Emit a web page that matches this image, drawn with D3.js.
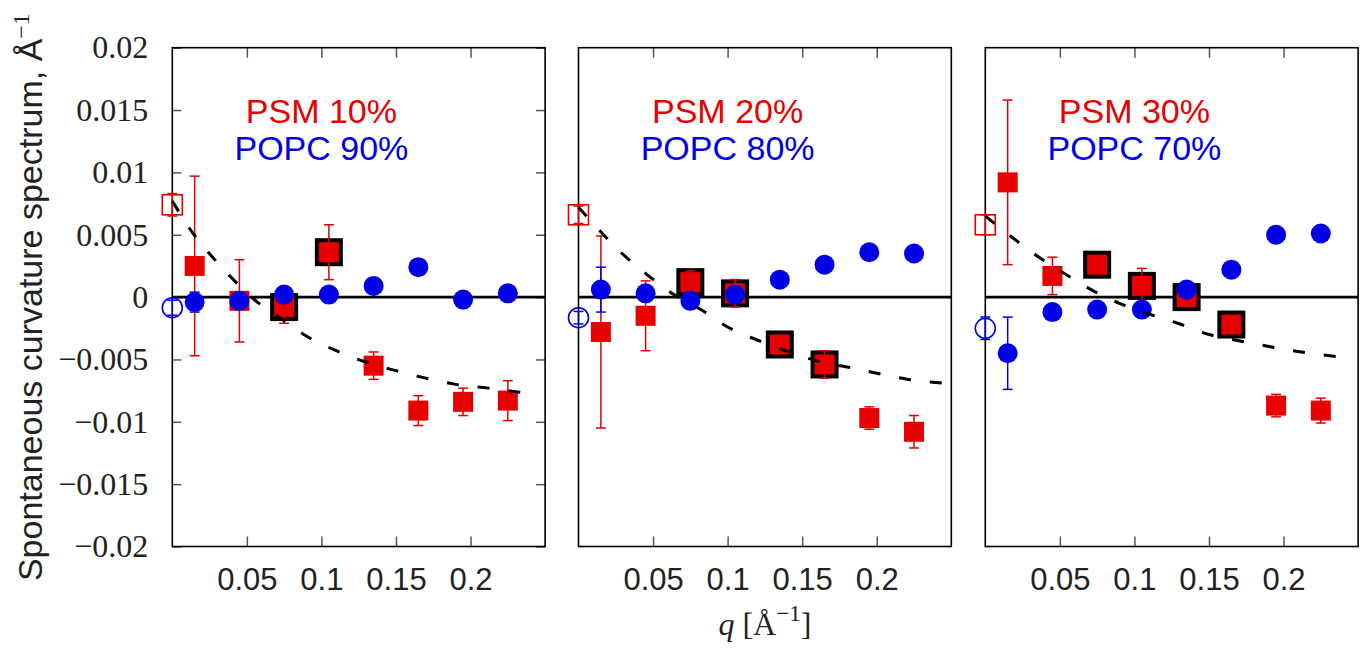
<!DOCTYPE html>
<html>
<head>
  <meta charset="utf-8">
  <style>
    body { margin: 0; background: #fff; }
    svg text { font-family: "Liberation Sans", Arial, sans-serif; }
    svg .tick line { stroke: #555; stroke-width: 1.5px; }
    svg .tick text { fill: #222; }
  </style>
</head>
<body>
<script src="https://cdn.jsdelivr.net/npm/d3@7"></script>
<script>
  // q positions of the filled points (A^-1)
  var qValues = [0.015, 0.045, 0.075, 0.105, 0.135, 0.165, 0.195, 0.225];

  var psmLabels  = ["PSM 10%", "PSM 20%", "PSM 30%"];
  var popcLabels = ["POPC 90%", "POPC 80%", "POPC 70%"];

  // PSM (red squares) and their error bars
  var psm10    = [0.0025, -0.0003, -0.0008, 0.0036, -0.0055, -0.0091, -0.0084, -0.0083];
  var psm10Err = [0.0072, 0.0033, 0.0013, 0.0022, 0.0011, 0.0012, 0.0011, 0.0016];
  var psm20    = [-0.0028, -0.0015, 0.0012, 0.0003, -0.0038, -0.0054, -0.0097, -0.0108];
  var psm20Err = [0.0077, 0.0028, 0.0009, 0.0011, 0.0005, 0.0011, 0.0009, 0.0013];
  var psm30    = [0.0092, 0.0017, 0.0026, 0.0009, 0.0000, -0.0022, -0.0087, -0.0091];
  var psm30Err = [0.0066, 0.0015, 0.0004, 0.0014, 0.0005, 0.0005, 0.0009, 0.0010];

  // which PSM points get the thick black frame
  var boxed10 = [0, 0, 1, 1, 0, 0, 0, 0];
  var boxed20 = [0, 0, 1, 1, 1, 1, 0, 0];
  var boxed30 = [0, 0, 1, 1, 1, 1, 0, 0];

  // POPC (blue circles)
  var popc90    = [-0.0004, -0.0003, 0.0002, 0.0002, 0.0009, 0.0024, -0.0002, 0.0003];
  var popc90Err = [0.0008, 0, 0, 0, 0, 0, 0, 0];
  var popc80    = [0.0006, 0.0003, -0.0003, 0.0002, 0.0014, 0.0026, 0.0036, 0.0035];
  var popc80Err = [0.0018, 0, 0, 0, 0, 0, 0, 0];
  var popc70    = [-0.0045, -0.0012, -0.0010, -0.0010, 0.0006, 0.0022, 0.0050, 0.0051];
  var popc70Err = [0.0029, 0, 0, 0, 0, 0, 0, 0];

  // open symbols at q = 0
  var psmAtZero     = [0.0074, 0.0066, 0.0058];
  var psmAtZeroErr  = [0.0009, 0.0007, 0.0008];
  var popcAtZero    = [-0.00085, -0.00165, -0.0025];
  var popcAtZeroErr = [0.0006, 0.0005, 0.0009];

  // dashed fit curves
  var fit10Q = [0, 0.014, 0.027, 0.041, 0.057, 0.074, 0.091, 0.11, 0.127, 0.15, 0.17, 0.19, 0.212, 0.237];
  var fit10  = [0.0077, 0.0051, 0.0032, 0.0014, -0.0004, -0.0018, -0.0032, -0.0043, -0.0051, -0.0059, -0.0065, -0.0070, -0.0073, -0.0077];
  var fit20Q = [0, 0.016, 0.031, 0.047, 0.064, 0.082, 0.1, 0.119, 0.139, 0.166, 0.18, 0.2, 0.221, 0.245];
  var fit20  = [0.0072, 0.0051, 0.0033, 0.0017, 0.0002, -0.0010, -0.0024, -0.0034, -0.0043, -0.0053, -0.0056, -0.0061, -0.0066, -0.0069];
  var fit30Q = [0, 0.019, 0.036, 0.053, 0.071, 0.09, 0.111, 0.129, 0.15, 0.17, 0.192, 0.212, 0.237];
  var fit30  = [0.0065, 0.0047, 0.0032, 0.0019, 0.0006, -0.0005, -0.0014, -0.0021, -0.0030, -0.0035, -0.0040, -0.0044, -0.0048];

  var yTicks      = [0.02, 0.015, 0.01, 0.005, 0, -0.005, -0.01, -0.015, -0.02];
  var yTickLabels = ["0.02", "0.015", "0.01", "0.005", "0", "\u22120.005", "\u22120.01", "\u22120.015", "\u22120.02"];
  var xTicks      = [0.05, 0.1, 0.15, 0.2];
  var xTickLabels = ["0.05", "0.1", "0.15", "0.2"];

  var panels = [
    { psm: psm10, psmErr: psm10Err, boxed: boxed10, popc: popc90, popcErr: popc90Err, fitQ: fit10Q, fit: fit10 },
    { psm: psm20, psmErr: psm20Err, boxed: boxed20, popc: popc80, popcErr: popc80Err, fitQ: fit20Q, fit: fit20 },
    { psm: psm30, psmErr: psm30Err, boxed: boxed30, popc: popc70, popcErr: popc70Err, fitQ: fit30Q, fit: fit30 }
  ];

  var red = "#e60000", blue = "#0000e6";

  // layout (pixels)
  var W = 1364, H = 652,
      plotTop = 47.7, plotBottom = 546.5,
      panelW = 372.8,
      panelLeft = [172.3, 578.5, 985.3];

  var svg = d3.select("body").append("svg")
      .attr("width", W)
      .attr("height", H);

  var y = d3.scaleLinear().domain([-0.02, 0.02]).range([plotBottom, plotTop]);

  function noDomain(a) { a.select(".domain").remove(); }

  function errBars(g, x, qs, vs, es, color) {
    var pts = qs.map(function (q, j) { return { q: q, v: vs[j], e: es[j] }; })
      .filter(function (d) { return d.e > 0; });
    var eb = g.append("g").attr("stroke", color).attr("stroke-width", 1.5).attr("fill", "none");
    eb.selectAll("line.bar").data(pts).enter().append("line")
        .attr("x1", function (d) { return x(d.q); })
        .attr("x2", function (d) { return x(d.q); })
        .attr("y1", function (d) { return y(d.v - d.e); })
        .attr("y2", function (d) { return y(d.v + d.e); });
    [-1, 1].forEach(function (s) {
      eb.selectAll("line.cap" + s).data(pts).enter().append("line")
          .attr("x1", function (d) { return x(d.q) - 5; })
          .attr("x2", function (d) { return x(d.q) + 5; })
          .attr("y1", function (d) { return y(d.v + s * d.e); })
          .attr("y2", function (d) { return y(d.v + s * d.e); });
    });
  }

  panels.forEach(function (p, i) {
    var x = d3.scaleLinear().domain([0, 0.25]).range([panelLeft[i], panelLeft[i] + panelW]);
    var g = svg.append("g");

    // x axis, bottom with labels, top mirror
    g.append("g")
        .attr("transform", "translate(0," + plotBottom + ")")
        .call(d3.axisBottom(x).tickValues(xTicks)
          .tickFormat(function (d, j) { return xTickLabels[j]; })
          .tickSize(-10).tickPadding(21.5))
        .call(noDomain)
      .selectAll(".tick text")
        .style("font-family", "'Liberation Sans', sans-serif")
        .style("font-size", "31px");
    g.append("g")
        .attr("transform", "translate(0," + plotTop + ")")
        .call(d3.axisTop(x).tickValues(xTicks).tickFormat("").tickSize(-10))
        .call(noDomain);

    // y axis only on the first panel
    if (i === 0) {
      g.append("g")
          .attr("transform", "translate(" + x(0) + ",0)")
          .call(d3.axisLeft(y).tickValues(yTicks)
            .tickFormat(function (d, j) { return yTickLabels[j]; })
            .tickSize(-9).tickPadding(24))
          .call(noDomain)
        .selectAll(".tick text")
          .style("font-family", "'Liberation Serif', serif")
          .style("font-size", "32px");
      g.append("g")
          .attr("transform", "translate(" + x(0.25) + ",0)")
          .call(d3.axisRight(y).tickValues(yTicks).tickFormat("").tickSize(-9))
          .call(noDomain);
    }

    // zero line
    g.append("line")
        .attr("x1", x(0)).attr("x2", x(0.25))
        .attr("y1", y(0)).attr("y2", y(0))
        .attr("stroke", "#000").attr("stroke-width", 2.6);

    // frame
    g.append("rect")
        .attr("x", x(0)).attr("y", plotTop)
        .attr("width", x(0.25) - x(0)).attr("height", plotBottom - plotTop)
        .attr("fill", "none").attr("stroke", "#000").attr("stroke-width", 1.6);

    var psmPts = qValues.map(function (q, j) { return { q: q, v: p.psm[j], boxed: p.boxed[j] }; });
    var popcPts = qValues.map(function (q, j) { return { q: q, v: p.popc[j] }; });

    // black frames behind the highlighted PSM points
    g.selectAll("rect.boxed").data(psmPts.filter(function (d) { return d.boxed; }))
      .enter().append("rect")
        .attr("x", function (d) { return x(d.q) - 14; })
        .attr("y", function (d) { return y(d.v) - 14; })
        .attr("width", 28).attr("height", 28)
        .attr("fill", "#000");

    // PSM error bars and squares
    errBars(g, x, qValues, p.psm, p.psmErr, red);
    errBars(g, x, [0], [psmAtZero[i]], [psmAtZeroErr[i]], red);

    g.selectAll("rect.psm").data(psmPts).enter().append("rect")
        .attr("x", function (d) { return x(d.q) - 10; })
        .attr("y", function (d) { return y(d.v) - 10; })
        .attr("width", 20).attr("height", 20)
        .attr("fill", red);

    g.append("rect")
        .attr("x", x(0) - 10).attr("y", y(psmAtZero[i]) - 10)
        .attr("width", 20).attr("height", 20)
        .attr("fill", "none").attr("stroke", red).attr("stroke-width", 1.6);

    // POPC error bars and circles
    errBars(g, x, qValues, p.popc, p.popcErr, blue);
    errBars(g, x, [0], [popcAtZero[i]], [popcAtZeroErr[i]], blue);

    g.selectAll("circle.popc").data(popcPts).enter().append("circle")
        .attr("cx", function (d) { return x(d.q); })
        .attr("cy", function (d) { return y(d.v); })
        .attr("r", 10)
        .attr("fill", blue);

    g.append("circle")
        .attr("cx", x(0)).attr("cy", y(popcAtZero[i]))
        .attr("r", 10)
        .attr("fill", "none").attr("stroke", blue).attr("stroke-width", 1.6);

    // dashed fit
    var fitLine = d3.line()
        .x(function (d) { return x(d[0]); })
        .y(function (d) { return y(d[1]); })
        .curve(d3.curveMonotoneX);
    g.append("path")
        .attr("d", fitLine(p.fitQ.map(function (q, j) { return [q, p.fit[j]]; })))
        .attr("fill", "none")
        .attr("stroke", "#000")
        .attr("stroke-width", 3)
        .attr("stroke-dasharray", "12,19");

    // composition labels
    g.append("text")
        .attr("x", x(0.1)).attr("y", 123.3)
        .attr("text-anchor", "middle")
        .style("font-size", "34px")
        .style("fill", red)
        .text(psmLabels[i]);
    g.append("text")
        .attr("x", x(0.1)).attr("y", 160)
        .attr("text-anchor", "middle")
        .style("font-size", "34px")
        .style("fill", blue)
        .text(popcLabels[i]);
  });

  // y axis title
  var yt = svg.append("text")
      .attr("transform", "translate(42," + y(0) + ") rotate(-90)")
      .attr("text-anchor", "middle")
      .style("font-size", "34px")
      .style("fill", "#222");
  yt.append("tspan").text("Spontaneous curvature spectrum, \u00c5");
  yt.append("tspan")
      .attr("dy", -13)
      .style("font-family", "'Liberation Serif', serif")
      .style("font-size", "24px")
      .text("\u22121");

  // x axis title
  var xt = svg.append("text")
      .attr("x", (panelLeft[1] + panelLeft[1] + panelW) / 2)
      .attr("y", 635)
      .attr("text-anchor", "middle")
      .style("font-family", "'Liberation Serif', serif")
      .style("font-size", "32px")
      .style("fill", "#222");
  xt.append("tspan").style("font-style", "italic").text("q");
  xt.append("tspan").text(" [\u00c5");
  xt.append("tspan").attr("dy", -14).style("font-size", "23px").text("\u22121");
  xt.append("tspan").attr("dy", 14).text("]");
</script>
</body>
</html>
